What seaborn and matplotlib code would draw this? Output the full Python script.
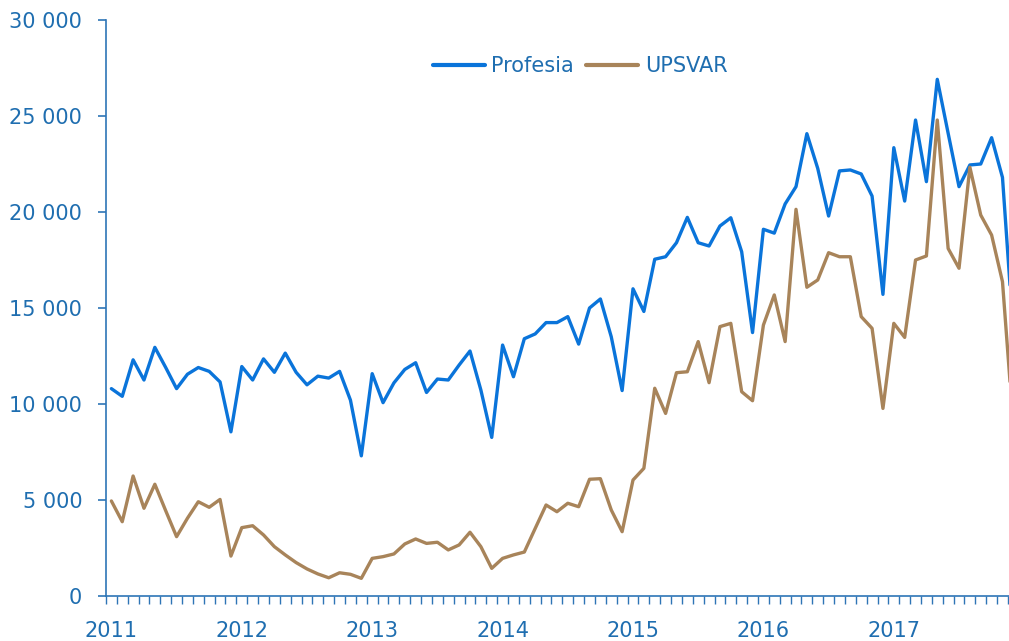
import numpy as np
import pandas as pd
import seaborn as sns
import matplotlib.pyplot as plt
from matplotlib.ticker import FuncFormatter, MultipleLocator

# monthly job offers, Jan 2011 - Dec 2017
profesia = [10800, 10400, 12300, 11250, 12950, 11900, 10800, 11550, 11900, 11700, 11150, 8550,
            11950, 11250, 12350, 11650, 12650, 11650, 11000, 11450, 11350, 11700, 10200, 7300,
            11580, 10070, 11100, 11800, 12150, 10600, 11300, 11250, 12030, 12760, 10730, 8260,
            13070, 11420, 13400, 13650, 14240, 14240, 14550, 13120, 15000, 15470, 13500, 10700,
            16000, 14820, 17540, 17670, 18400, 19720, 18400, 18230, 19270, 19700, 17930, 13720,
            19100, 18900, 20420, 21320, 24080, 22270, 19790, 22140, 22190, 21980, 20830, 15710,
            23350, 20570, 24790, 21580, 26910, 24100, 21320, 22450, 22500, 23870, 21800, 13700]
upsvar = [4950, 3870, 6250, 4570, 5820, 4440, 3090, 4050, 4910, 4620, 5030, 2080,
          3560, 3660, 3180, 2570, 2140, 1740, 1410, 1150, 950, 1210, 1130, 920,
          1960, 2050, 2190, 2710, 2970, 2740, 2800, 2400, 2660, 3320, 2570, 1440,
          1960, 2140, 2290, 3520, 4740, 4390, 4830, 4650, 6080, 6110, 4480, 3350,
          6040, 6650, 10820, 9510, 11630, 11680, 13250, 11110, 14030, 14200, 10640, 10170,
          14110, 15680, 13250, 20140, 16080, 16460, 17880, 17670, 17670, 14550, 13940, 9770,
          14200, 13470, 17500, 17710, 24790, 18100, 17070, 22330, 19840, 18800, 16370, 8850]
years = [2011, 2012, 2013, 2014, 2015, 2016, 2017]
series = ['Profesia', 'UPSVAR']

n = len(profesia)
df = pd.DataFrame({
    'month': list(range(n)) * 2,
    'value': profesia + upsvar,
    'source': ['Profesia'] * n + ['UPSVAR'] * n,
})

blue = '#0A74DA'
brown = '#A8845A'
txt = '#1F6EB0'
axc = '#2E75B6'

sns.set_style('white')
plt.rcParams['font.family'] = ['DejaVu Sans']

fig = plt.figure(figsize=(10.09, 6.41), dpi=100)
ax = fig.add_axes([0.105, 0.0702, 0.895, 0.8986])

sns.lineplot(data=df, x='month', y='value', hue='source', hue_order=series,
             palette=[blue, brown], linewidth=2.4, ax=ax)

ax.yaxis.set_major_locator(MultipleLocator(5000))
ax.yaxis.set_major_formatter(FuncFormatter(lambda v, p: f'{int(v):,}'.replace(',', ' ')))

# year labels on January, month ticks between the points
ax.set_xticks([12 * i for i in range(len(years))])
ax.set_xticklabels([str(y) for y in years])
ax.set_xticks([k - 0.5 for k in range(n + 1)], minor=True)
# limits after the ticks, set_xticks would widen them otherwise
ax.set_ylim(0, 30000)
ax.set_xlim(-0.5, 82.6)

ax.tick_params(axis='x', which='major', bottom=True, length=0, pad=18,
               labelsize=15, labelcolor=txt)
ax.tick_params(axis='x', which='minor', bottom=True, length=6, width=1, color=axc,
               direction='out')
ax.tick_params(axis='y', which='major', left=True, length=6, width=1.2, color=axc,
               direction='out', labelsize=15, labelcolor=txt, pad=11)
ax.set_xlabel('')
ax.set_ylabel('')

for s in ['top', 'right']:
    ax.spines[s].set_visible(False)
for s in ['left', 'bottom']:
    ax.spines[s].set_color(axc)
    ax.spines[s].set_linewidth(1.2)

leg = ax.legend(loc='center', bbox_to_anchor=(0.525, 0.92), ncol=2, frameon=False,
                fontsize=15, handlelength=2.5, handletextpad=0.3, columnspacing=0.6)
for t in leg.get_texts():
    t.set_color(txt)
for h in leg.get_lines():
    h.set_linewidth(3)

fig.savefig('out.png', dpi=100)
